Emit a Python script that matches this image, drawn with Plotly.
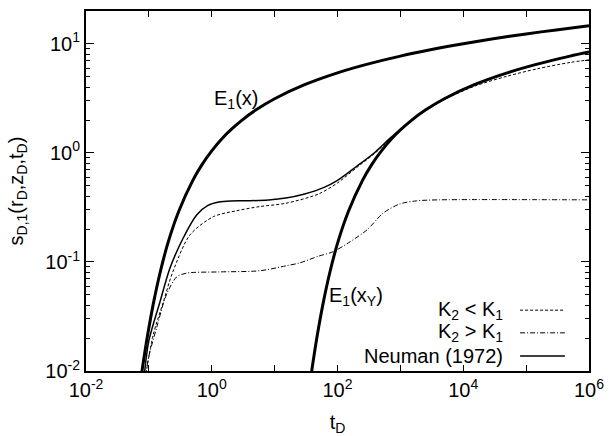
import plotly.graph_objects as go

# Theis solution E1(x), x = r_D^2 / (4 t_D)
t_theis = [0.075, 0.08, 0.09, 0.1, 0.12, 0.15, 0.2, 0.3, 0.5, 0.7, 1.0, 1.5, 2.0, 3.0,
           5.0, 10.0, 30.0, 100.0, 300.0, 1e3, 3e3, 1e4, 3e4, 1e5, 3e5, 1e6]
s_theis = [0.0086, 0.0112, 0.0174, 0.0249, 0.0437, 0.0788, 0.148, 0.293, 0.560, 0.781,
           1.044, 1.374, 1.623, 1.989, 2.468, 3.137, 4.219, 5.417, 6.51, 7.717, 8.816,
           10.02, 11.12, 12.32, 13.42, 14.62]

# Late-time Theis curve E1(x_Y) (specific-yield controlled)
t_late = [37.5, 40, 45, 50, 60, 75, 100, 150, 250, 350, 500, 750, 1000, 1500, 2500,
          5000, 15000, 50000, 150000, 500000, 1e6]
s_late = [0.0086, 0.0112, 0.0174, 0.0249, 0.0437, 0.0788, 0.148, 0.293, 0.560, 0.781,
          1.044, 1.374, 1.623, 1.989, 2.468, 3.137, 4.219, 5.417, 6.51, 7.717, 8.41]

# Neuman (1972) unconfined aquifer response
t_neuman = [0.085, 0.1, 0.15, 0.216, 0.35, 0.575, 0.87, 1.3, 2.0, 4.0, 8.0, 15, 30, 60,
            100, 200, 400, 700, 1000, 1500, 2500, 5000, 15000, 50000, 150000, 500000, 1e6]
s_neuman = [0.0095, 0.019, 0.043, 0.0875, 0.165, 0.27, 0.33, 0.355, 0.363, 0.364, 0.37,
            0.385, 0.42, 0.48, 0.56, 0.75, 1.02, 1.38, 1.63, 1.99, 2.468, 3.137, 4.219,
            5.417, 6.51, 7.717, 8.41]

# Two-layer case, K2 < K1
t_k_lt = [0.09, 0.117, 0.17, 0.24, 0.45, 1.06, 2.5, 5.8, 15, 50, 100, 200, 400, 700,
          1000, 1500, 2500, 5000, 15000, 50000, 150000, 500000, 1e6]
s_k_lt = [0.0095, 0.0214, 0.043, 0.081, 0.177, 0.26, 0.295, 0.322, 0.345, 0.42, 0.53,
          0.73, 1.0, 1.36, 1.61, 1.97, 2.44, 3.08, 4.08, 5.05, 5.9, 6.75, 7.13]

# Two-layer case, K2 > K1
t_k_gt = [0.09, 0.098, 0.133, 0.19, 0.277, 0.40, 1.3, 5.8, 15, 25, 50, 85, 150, 295,
          530, 975, 1800, 4000, 1e6]
s_k_gt = [0.009, 0.013, 0.025, 0.05, 0.073, 0.079, 0.081, 0.083, 0.092, 0.098, 0.113,
          0.124, 0.15, 0.197, 0.28, 0.34, 0.363, 0.371, 0.371]

x_ticks = [1e-2, 1e-1, 1e0, 1e1, 1e2, 1e3, 1e4, 1e5, 1e6]
x_ticktext = ["10<sup>-2</sup>", "", "10<sup>0</sup>", "", "10<sup>2</sup>", "",
              "10<sup>4</sup>", "", "10<sup>6</sup>"]
y_ticks = [1e-2, 1e-1, 1e0, 1e1]
y_ticktext = ["10<sup>-2</sup>", "10<sup>-1</sup>", "10<sup>0</sup>", "10<sup>1</sup>"]
y_minor = [m * 10.0 ** e for e in (-2, -1, 0, 1) for m in range(2, 10)]

legend_labels = ["K<sub>2</sub> &lt; K<sub>1</sub>", "K<sub>2</sub> &gt; K<sub>1</sub>",
                 "Neuman (1972)"]

FONT = "Liberation Sans, Arial, Helvetica, sans-serif"
FS = 20
DASHED = "3px,2px"
DASHDOT = "5px,2px,1px,2px"

fig = go.Figure()


def curve(t, s, width, dash="solid"):
    fig.add_trace(go.Scatter(x=t, y=s, mode="lines", showlegend=False,
                             line=dict(color="black", width=width, dash=dash,
                                       shape="spline", smoothing=0.8)))


curve(t_k_gt, s_k_gt, 1.0, DASHDOT)
curve(t_k_lt, s_k_lt, 1.0, DASHED)
curve(t_neuman, s_neuman, 1.5)
curve(t_theis, s_theis, 3.0)
curve(t_late, s_late, 3.0)

# curve labels
fig.add_annotation(x=0.0, y=0.49, xref="x", yref="y", text="E<sub>1</sub>(x)",
                   showarrow=False, xanchor="left", yanchor="middle",
                   font=dict(family=FONT, size=FS, color="black"))
fig.add_annotation(x=1.83, y=-1.32, xref="x", yref="y", text="E<sub>1</sub>(x<sub>Y</sub>)",
                   showarrow=False, xanchor="left", yanchor="middle",
                   font=dict(family=FONT, size=FS, color="black"))

# key: label on the left, line sample on the right
key_rows = [0.169, 0.106, 0.042]
key_dash = [DASHED, DASHDOT, "solid"]
key_width = [1.0, 1.0, 1.5]
for label, yk, dash, w in zip(legend_labels, key_rows, key_dash, key_width):
    fig.add_annotation(x=0.833, y=yk, xref="paper", yref="paper", text=label,
                       showarrow=False, xanchor="right", yanchor="middle",
                       font=dict(family=FONT, size=FS, color="black"))
    fig.add_shape(type="line", xref="paper", yref="paper", x0=0.863, x1=0.952,
                  y0=yk, y1=yk, line=dict(color="black", width=w, dash=dash))

axis_common = dict(showline=True, linecolor="black", linewidth=2, mirror="ticks",
                   ticks="inside", tickcolor="black", showgrid=False, zeroline=False,
                   automargin=False,
                   tickfont=dict(family=FONT, size=FS, color="black"))

fig.update_xaxes(type="log", range=[-2, 6], tickmode="array", tickvals=x_ticks,
                 ticktext=x_ticktext, ticklen=6,
                 title=dict(text="t<sub>D</sub>", standoff=18,
                            font=dict(family=FONT, size=FS, color="black")),
                 **axis_common)
fig.update_yaxes(type="log", range=[-2, 1.301], tickmode="array", tickvals=y_ticks,
                 ticktext=y_ticktext, ticklen=8,
                 minor=dict(tickmode="array", tickvals=y_minor, ticks="inside",
                            ticklen=4, tickcolor="black", showgrid=False),
                 title=dict(text="s<sub>D,1</sub>(r<sub>D</sub>,z<sub>D</sub>,t<sub>D</sub>)",
                            standoff=16, font=dict(family=FONT, size=FS, color="black")),
                 **axis_common)

fig.update_layout(width=609, height=436, margin=dict(l=86, r=20, t=11, b=65),
                  paper_bgcolor="white", plot_bgcolor="white",
                  font=dict(family=FONT, color="black"))

fig.write_html("out.html")
